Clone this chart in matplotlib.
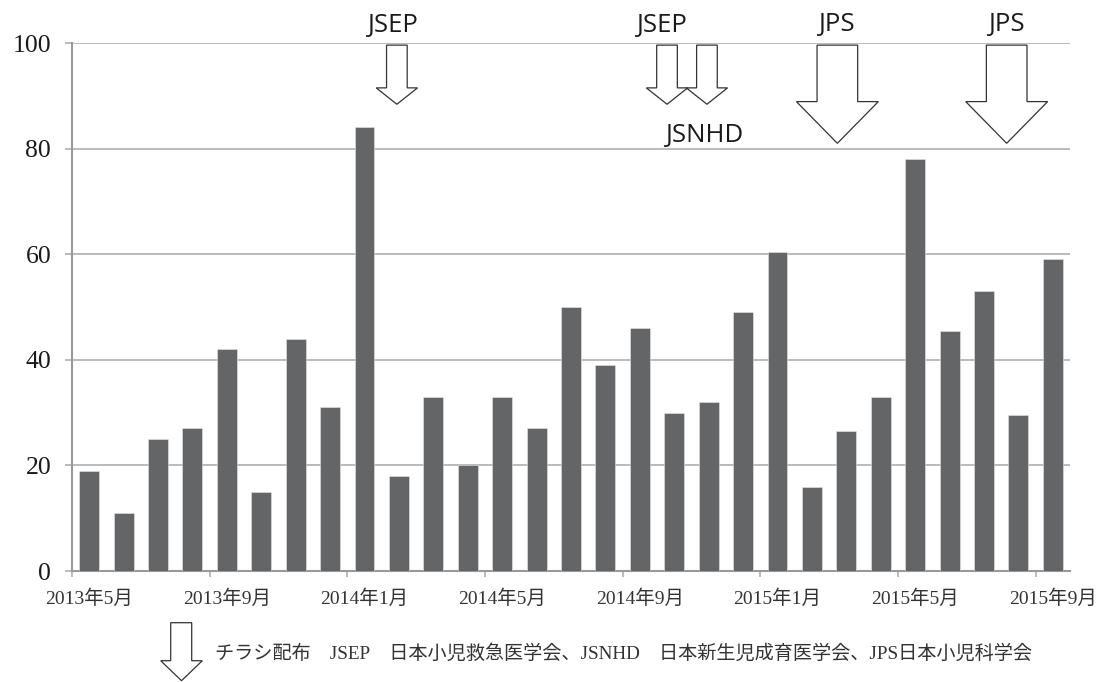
import matplotlib
matplotlib.use("Agg")
import matplotlib.pyplot as plt
from matplotlib.patches import Polygon

# Monthly counts, May 2013 - Sep 2015
months = ["2013年5月", "2013年6月", "2013年7月", "2013年8月", "2013年9月", "2013年10月",
          "2013年11月", "2013年12月", "2014年1月", "2014年2月", "2014年3月", "2014年4月",
          "2014年5月", "2014年6月", "2014年7月", "2014年8月", "2014年9月", "2014年10月",
          "2014年11月", "2014年12月", "2015年1月", "2015年2月", "2015年3月", "2015年4月",
          "2015年5月", "2015年6月", "2015年7月", "2015年8月", "2015年9月"]
counts = [19, 11, 25, 27, 42, 15, 44, 31, 84, 18, 33, 20, 33, 27, 50, 39, 46, 30, 32,
          49, 60.5, 16, 26.5, 33, 78, 45.5, 53, 29.5, 59]
label_months = ["2013年5月", "2013年9月", "2014年1月", "2014年5月",
                "2014年9月", "2015年1月", "2015年5月", "2015年9月"]
y_ticks = [0, 20, 40, 60, 80, 100]

# Flyer distribution events
events = ["JSEP", "JSEP", "JSNHD", "JPS", "JPS"]
legend_text = "チラシ配布　JSEP　日本小児救急医学会、JSNHD　日本新生児成育医学会、JPS日本小児科学会"

W, H = 1099, 682
fig = plt.figure(figsize=(W / 100, H / 100), dpi=100)
ax = fig.add_axes([72 / W, 1 - 571 / H, (1070 - 72) / W, (571 - 43) / H])

x = list(range(len(months)))
ax.bar(x, counts, width=0.58, color="#646567", edgecolor="#e6e6e6", linewidth=0.4, zorder=3)

ax.set_xlim(-0.5, len(months) - 0.5)
ax.set_ylim(0, 100)

grid_c = "#a8a8a8"
ax.set_yticks(y_ticks)
ax.set_yticklabels([str(v) for v in y_ticks], fontfamily="Liberation Serif", fontsize=18.5,
                   color="#1a1a1a")
ax.yaxis.grid(True, color=grid_c, linewidth=1.1, zorder=0)
ax.tick_params(axis="y", length=5, width=1.1, color=grid_c, pad=10)

# category boundaries carry the tick marks, labels sit under the bars
idx = [months.index(m) for m in label_months]
ax.set_xticks([i - 0.5 for i in idx])
ax.set_xticklabels([])
ax.tick_params(axis="x", which="major", length=4, width=1.1, color=grid_c)
ax.set_xticks(idx, minor=True)
ax.set_xticklabels(label_months, minor=True, fontfamily=["Liberation Serif", "Noto Sans CJK JP"],
                   fontsize=14, color="#333333")
ax.tick_params(axis="x", which="minor", length=0, pad=13)

for s in ("top", "right"):
    ax.spines[s].set_visible(False)
for s in ("left", "bottom"):
    ax.spines[s].set_color("#999999")
    ax.spines[s].set_linewidth(1.5)


def block_arrow(axis, cx, top, base, tip, shaft_hw, head_hw, transform=None, lw=0.9):
    pts = [(cx - shaft_hw, top), (cx + shaft_hw, top), (cx + shaft_hw, base),
           (cx + head_hw, base), (cx, tip), (cx - head_hw, base), (cx - shaft_hw, base)]
    kw = dict(closed=True, facecolor="white", edgecolor="#333333", linewidth=lw,
              zorder=5, clip_on=False)
    if transform is not None:
        kw["transform"] = transform
    axis.add_patch(Polygon(pts, **kw))


# small arrows
for cx in (8.94, 16.79, 17.95):
    block_arrow(ax, cx, 99.6, 91.5, 88.4, 0.30, 0.60)
# large arrows
for cx in (21.74, 26.66):
    block_arrow(ax, cx, 99.6, 88.9, 81.0, 0.59, 1.19)

txt = dict(fontfamily="Open Sans", fontsize=18.5, color="#1a1a1a", ha="center",
           va="baseline", clip_on=False, zorder=6)
ax.text(8.8, 102.1, events[0], **txt)
ax.text(16.64, 102.1, events[1], **txt)
ax.text(17.86, 81.3, events[2], **txt)
ax.text(21.71, 102.2, events[3], **txt)
ax.text(26.65, 102.2, events[4], **txt)

# legend arrow + caption below the axis
fx = lambda px: px / W
fy = lambda py: 1 - py / H
pts = [(fx(170.7), fy(622.7)), (fx(191.7), fy(622.7)), (fx(191.7), fy(660.7)),
       (fx(202.3), fy(660.7)), (fx(181.5), fy(680.7)), (fx(160.7), fy(660.7)),
       (fx(170.7), fy(660.7))]
fig.patches.append(Polygon(pts, closed=True, facecolor="white", edgecolor="#333333",
                           linewidth=0.9, transform=fig.transFigure))
fig.text(fx(215), fy(653), legend_text, fontfamily=["Liberation Serif", "Noto Sans CJK JP"],
         fontsize=13.8, color="#333333", ha="left", va="center")

fig.savefig("out.png", dpi=100, facecolor="white")
